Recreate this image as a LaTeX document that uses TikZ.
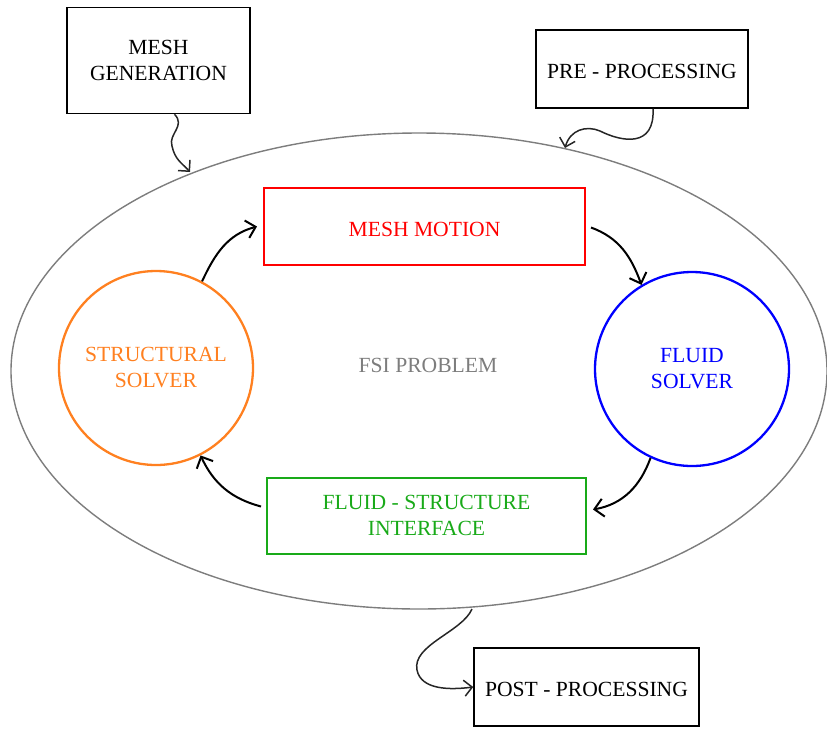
\documentclass[tikz,border=0pt]{standalone}
\usepackage{fontspec}
\setmainfont{Liberation Serif}
\usetikzlibrary{arrows.meta,shapes.geometric,calc}
\definecolor{myorange}{RGB}{255,128,32}
\definecolor{mygreen}{RGB}{25,170,25}
\definecolor{mygray}{RGB}{125,125,125}
\begin{document}
\begin{tikzpicture}[x=1pt,y=-1pt,
  every node/.style={font=\fontsize{21.6}{26}\selectfont, align=center},
  oneline/.style={text height=19pt, text depth=0pt},
  plainbox/.style={draw=black, line width=1.5pt, inner sep=0pt},
  coloredbox/.style={draw=#1, text=#1, line width=2pt, inner sep=0pt},
  solver/.style={draw=#1, text=#1, circle, line width=2.3pt, minimum size=194pt, inner sep=0pt},
  flow/.style={-{Straight Barb[length=9pt,width=18pt,line width=2pt]}, line width=2pt, black},
  snake/.style={-{Straight Barb[length=8pt,width=16pt,line width=1.5pt]}, line width=1.5pt, black!85}]
\useasboundingbox (0,0) rectangle (827,729);
\node[ellipse, draw=mygray, line width=1.4pt, minimum width=816pt, minimum height=476pt, inner sep=0pt] (fsiell) at (419,371) {};
\node[text=mygray, oneline] (fsitext) at (428,363) {FSI PROBLEM};
\node[plainbox, minimum width=183pt, minimum height=106pt] (mg) at (158.5,60.5) {MESH\\GENERATION};
\node[plainbox, oneline, minimum width=212pt, minimum height=78pt] (pre) at (642,69) {PRE - PROCESSING};
\node[plainbox, oneline, minimum width=225pt, minimum height=78pt] (post) at (586.5,687) {POST - PROCESSING};
\node[coloredbox=red, oneline, minimum width=321pt, minimum height=77pt] (mm) at (424.5,226.5) {MESH MOTION};
\node[coloredbox=mygreen, minimum width=319pt, minimum height=76pt] (fsi) at (426.5,515.5) {FLUID - STRUCTURE\\INTERFACE};
\node[solver=myorange] (ss) at (156,368) {STRUCTURAL\\SOLVER};
\node[solver=blue] (fs) at (692,369) {FLUID\\SOLVER};
\coordinate (mgstart) at ($(mg.south)+(16,0)$);
\coordinate (mgend) at (190,172);
\coordinate (prestart) at ($(pre.south)+(11,0)$);
\coordinate (preend) at (565,148);
\coordinate (poststart) at (472,609);
\draw[flow] (ss.62) to[out=65, in=195] ($(mm.west)+(-6,0)$);
\draw[flow] ($(mm.east)+(5,1)$) to[out=-20, in=110] (fs.121);
\draw[flow] (fs.245) to[out=250, in=10] ($(fsi.east)+(6,-6)$);
\draw[flow] ($(fsi.west)+(-5,-9)$) to[out=165, in=295] (ss.297);
\draw[snake] (mgstart) .. controls (186,126) and (168,134) .. (172,146) .. controls (175,160) and (182,163) .. (mgend);
\draw[snake] (prestart) .. controls (655,148) and (622,142) .. (600,131) .. controls (586,125) and (570,130) .. (preend);
\draw[snake] (poststart) .. controls (462,632) and (412,645) .. (417,670) .. controls (421,690) and (450,690) .. (post.west);
\end{tikzpicture}
\end{document}
